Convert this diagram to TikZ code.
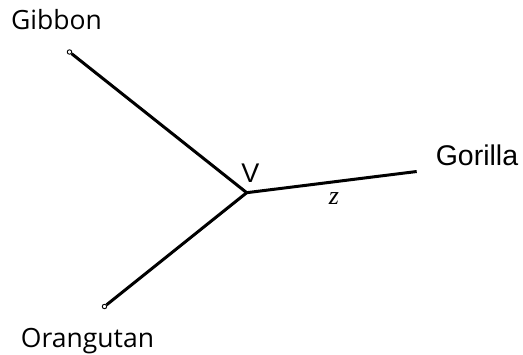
\documentclass[tikz,border=0pt]{standalone}
\usepackage{fontspec}
\setmainfont{Open Sans}
\newfontfamily\arialf{Liberation Sans}
\newfontfamily\timesf{Liberation Serif}
\begin{document}
\begin{tikzpicture}[x=1pt,y=-1pt,
  branch/.style={line width=3pt},
  tip/.style={circle,draw,fill=white,line width=0.9pt,inner sep=0pt,minimum size=4.5pt},
  leaflabel/.style={anchor=base,inner sep=0pt,font=\fontsize{26.5}{30}\selectfont},
  arlabel/.style={anchor=base,inner sep=0pt,font=\arialf\fontsize{28.5}{32}\selectfont}]
\useasboundingbox (0,0) rectangle (523,355);
\coordinate (c) at (246.7,192.7);
\coordinate (gor) at (416.7,171.5);
\node[tip] (gib) at (69.5,52) {};
\node[tip] (ora) at (104.5,306.5) {};
\draw[branch] (c) -- (gib);
\draw[branch] (c) -- (ora);
\draw[branch] (c) -- (gor);
\node[leaflabel] (lgib) at (56.5,30) {Gibbon};
\node[leaflabel] (lora) at (87.5,347.5) {Orangutan};
\node[arlabel] (lgor) at (477,166) {Gorilla};
\node[arlabel,font=\arialf\fontsize{27}{30}\selectfont] (lv) at (250.5,183) {V};
\node[anchor=base,inner sep=0pt,font=\timesf\itshape\fontsize{26}{30}\selectfont] (lz) at (334,205) {z};
\end{tikzpicture}
\end{document}
